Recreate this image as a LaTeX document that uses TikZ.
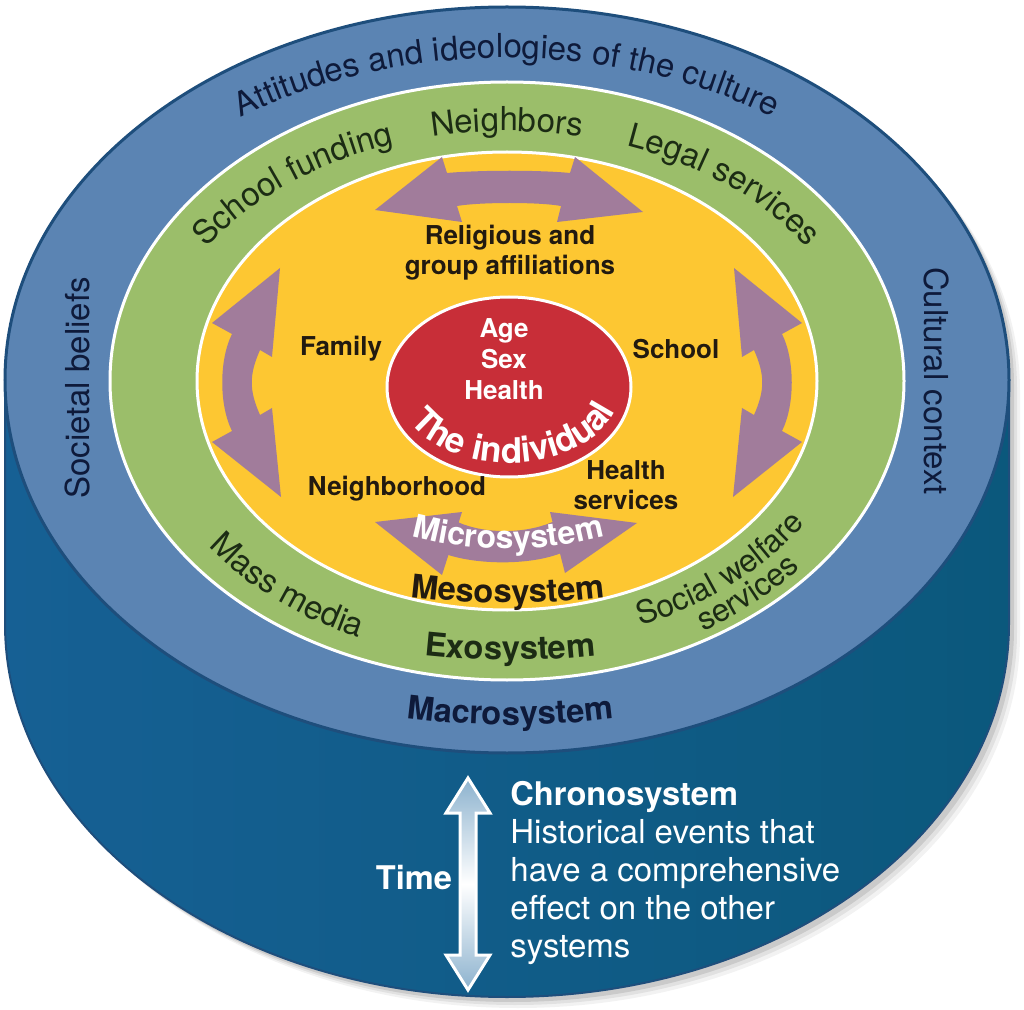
\documentclass[tikz,border=0pt]{standalone}
\usepackage{fontspec}
\setmainfont{TeX Gyre Heros}
\usetikzlibrary{decorations.text}
\definecolor{bluetop}{RGB}{91,132,179}
\definecolor{blueline}{RGB}{30,78,124}
\definecolor{sideL}{RGB}{22,96,148}
\definecolor{sideM}{RGB}{36,113,166}
\definecolor{sideR}{RGB}{11,88,124}
\definecolor{bandgreen}{RGB}{155,190,106}
\definecolor{bandyellow}{RGB}{253,199,50}
\definecolor{indred}{RGB}{200,46,56}
\definecolor{purp}{RGB}{161,124,155}
\definecolor{navytxt}{RGB}{14,26,58}
\definecolor{greentxt}{RGB}{28,44,20}
\definecolor{darktxt}{RGB}{34,26,16}
\definecolor{arrowblue}{RGB}{140,178,206}
\newcommand{\bandfont}{\fontsize{16.5}{19}\selectfont}
\newcommand{\boldlab}{\fontsize{13}{15}\selectfont\bfseries}
\newcommand{\sysfont}{\fontsize{16.3}{19}\selectfont\bfseries}
\tikzset{
  ring/.style={draw=white, line width=1.5pt},
  lab/.style={font=\boldlab, text=darktxt, align=center, inner sep=0pt},
  purparrow/.style={fill=purp},
  chrono/.style={font=\bandfont, text=white, anchor=base west, inner sep=0pt},
  sidelab/.style={font=\bandfont, text=navytxt, anchor=base, inner sep=0pt},
}
\begin{document}
\begin{tikzpicture}[x=0.5pt, y=0.5pt]
\useasboundingbox (0,0) rectangle (1024,1009);
% soft shadow
\foreach \s/\o in {11/0.05, 8/0.07, 5/0.10} {
  \fill[black, opacity=\o, shift={(\s,-\s)}] (5,629) -- (5,385) arc[start angle=180, end angle=360, x radius=502, y radius=373] -- (1009,629) arc[start angle=0, end angle=180, x radius=502, y radius=373] -- cycle;
}
% cylinder side
\fill[left color=sideL, middle color=sideM, right color=sideR] (5,629) -- (5,385) arc[start angle=180, end angle=360, x radius=502, y radius=373] -- (1009,629) -- cycle;
\draw[blueline, line width=1pt] (5,629) -- (5,385) arc[start angle=180, end angle=360, x radius=502, y radius=373] -- (1009,629);
% top face and rings
\filldraw[fill=bluetop, draw=blueline, line width=1.5pt] (507,629) ellipse[x radius=502, y radius=373];
\filldraw[fill=bandgreen, ring] (507,628) ellipse[x radius=397, y radius=299];
\filldraw[fill=bandyellow, ring] (507,628) ellipse[x radius=310, y radius=229];
% purple arrows
\fill[purparrow] (375,799) -- (442,852) -- (447,836) .. controls (480,839) and (540,839) .. (570,836) -- (575,852) -- (643,797) -- (557,787) -- (561,803) .. controls (540,807) and (480,807) .. (457,803) -- (462,787) -- cycle;
\fill[purparrow] (375,487) -- (462,497) -- (458.7,486.5) .. controls (485,475) and (525,475) .. (552.5,487) -- (550,497) -- (637,486) -- (565,436) -- (560,455.5) .. controls (530,444) and (480,444) .. (448.4,454) -- (442,434) -- cycle;
\fill[purparrow] (280,741) -- (272,652) -- (260,659) .. controls (249,634) and (249,619) .. (260,594) -- (272,601) -- (281,512) -- (212,567) -- (232,578) .. controls (219,604) and (219,649) .. (232,675) -- (212,686) -- cycle;
\fill[purparrow] (734,741) -- (742,652) -- (754,659) .. controls (765,634) and (765,619) .. (754,594) -- (742,601) -- (733,512) -- (802,567) -- (782,578) .. controls (795,604) and (795,649) .. (782,675) -- (802,686) -- cycle;
% individual
\filldraw[fill=indred, ring] (509,622) ellipse[x radius=122, y radius=90];
% curved texts
\path[decorate, decoration={text along path, text align=center, text={|\bandfont\color{navytxt}|Attitudes and ideologies of the culture}}]
  (507,629) ++(165:460 and 322) arc[start angle=165, end angle=15, x radius=460, y radius=322];
\path[decorate, decoration={text along path, text align=center, text={|\bandfont\color{greentxt}|School funding}}]
  (507,628) ++(171:355 and 250) arc[start angle=171, end angle=91, x radius=355, y radius=250];
\path[decorate, decoration={text along path, text align=center, text={|\bandfont\color{greentxt}|Neighbors}}]
  (507,628) ++(110:355 and 250) arc[start angle=110, end angle=70, x radius=355, y radius=250];
\path[decorate, decoration={text along path, text align=center, text={|\bandfont\color{greentxt}|Legal services}}]
  (507,628) ++(80:355 and 250) arc[start angle=80, end angle=20, x radius=355, y radius=250];
\path[decorate, decoration={text along path, text align=center, text={|\bandfont\color{greentxt}|Mass media}}]
  (507,628) ++(200:370 and 280) arc[start angle=200, end angle=260, x radius=370, y radius=280];
\path[decorate, decoration={text along path, text align=center, text={|\fontsize{15.8}{18}\selectfont\color{greentxt}|Social welfare}}]
  (507,628) ++(281:354 and 264) arc[start angle=281, end angle=341, x radius=354, y radius=264];
\path[decorate, decoration={text along path, text align=center, text={|\fontsize{15.8}{18}\selectfont\color{greentxt}|services}}]
  (507,628) ++(291:383 and 291) arc[start angle=291, end angle=331, x radius=383, y radius=291];
\path[decorate, decoration={text along path, text align=center, text={|\fontsize{17.5}{20}\selectfont\bfseries\color{white}|The individual}}]
  (509,622) ++(195:112 and 76) arc[start angle=195, end angle=355, x radius=112, y radius=76];
\path[decorate, decoration={text along path, text align=center, text={|\fontsize{16}{18}\selectfont\bfseries\color{white}|Microsystem}}]
  (508,836) ++(245:376) arc[start angle=245, end angle=295, radius=376];
\path[decorate, decoration={text along path, text align=center, text={|\sysfont\color{darktxt}|Mesosystem}}]
  (508,1206) ++(255:800) arc[start angle=255, end angle=285, radius=800];
\path[decorate, decoration={text along path, text align=center, text={|\sysfont\color{greentxt}|Exosystem}}]
  (510,1149) ++(255:800) arc[start angle=255, end angle=285, radius=800];
\path[decorate, decoration={text along path, text align=center, text={|\sysfont\color{navytxt}|Macrosystem}}]
  (510,1084) ++(255:800) arc[start angle=255, end angle=285, radius=800];
% side labels
\node[sidelab, rotate=90] (soc) at (90,621) {Societal beliefs};
\node[sidelab, rotate=-90] (cult) at (924,628) {Cultural context};
% inner labels
\node[lab] (relig) at (510,756) {Religious and\\group affiliations};
\node[lab] (family) at (341,660) {Family};
\node[lab] (school) at (676,660) {School};
\node[lab] (neigh) at (397,520) {Neighborhood};
\node[lab] (health) at (626,524) {Health\\services};
\node[lab, text=white, font=\fontsize{13}{15.5}\selectfont\bfseries] (age) at (504,650) {Age\\Sex\\Health};
% time arrow
\filldraw[draw=white, line width=1.5pt, top color=arrowblue, bottom color=arrowblue, middle color=white]
  (468,231) -- (490,196) -- (476,196) -- (476,54) -- (490,54) -- (468,19) -- (446,54) -- (460,54) -- (460,196) -- (446,196) -- cycle;
\node[font=\sysfont, text=white, inner sep=0pt] (time) at (414,132) {Time};
\node[chrono, font=\sysfont] (chrono) at (510,204) {Chronosystem};
\node[chrono] (h1) at (510,166) {Historical events that};
\node[chrono] (h2) at (510,128) {have a comprehensive};
\node[chrono] (h3) at (510,90) {effect on the other};
\node[chrono] (h4) at (510,52) {systems};
\end{tikzpicture}
\end{document}
